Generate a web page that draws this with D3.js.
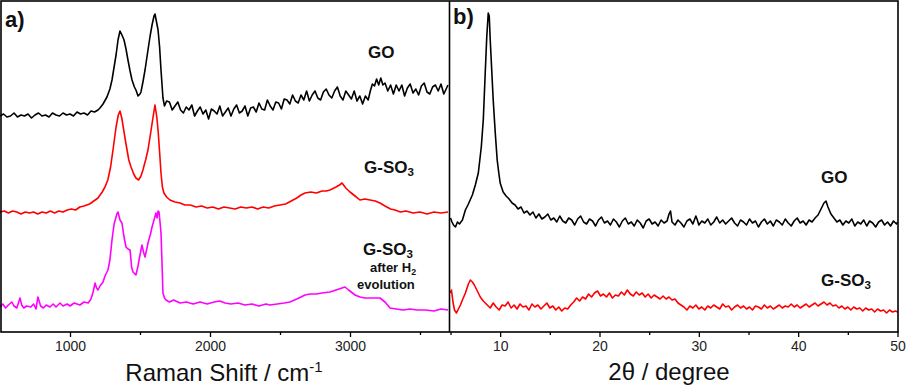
<!DOCTYPE html>
<html>
<head>
<meta charset="utf-8">
<script src="https://cdn.jsdelivr.net/npm/d3@7"></script>
<style>
  body { margin: 0; background: #fff; }
  text { font-family: "Liberation Sans", Arial, sans-serif; }
</style>
</head>
<body>
<div id="chart"></div>
<script>
// Raman spectra (panel a) : [shift cm-1, intensity a.u.]
let ramanGO = [[500,216],[525,218],[550,215],[575,216],[600,219],[625,215],[650,217],[675,216],[700,218],[725,214],[750,217],[775,219],[800,216],[825,217],[850,215],[875,219],[900,217],[925,216],[950,219],[975,217],[1000,218],[1025,216],[1050,220],[1075,218],[1100,219],[1125,217],[1150,221],[1175,220],[1200,222],[1214,224],[1236,228],[1264,235],[1285,243],[1300,252],[1315,265],[1329,277],[1343,292],[1357,301],[1371,297],[1386,292],[1400,283],[1414,272],[1429,261],[1443,252],[1460,245],[1471,242],[1486,236],[1500,238],[1507,240],[1521,250],[1536,262],[1557,282],[1571,295],[1586,307],[1600,316],[1607,318],[1618,310],[1629,302],[1640,285],[1650,262],[1664,234],[1675,226],[1690,231],[1710,230],[1730,222],[1750,226],[1770,230],[1790,222],[1810,219],[1830,225],[1850,222],[1870,227],[1890,216],[1910,221],[1930,225],[1950,218],[1970,222],[1990,213],[2010,223],[2030,221],[2050,218],[2070,226],[2090,216],[2110,220],[2130,224],[2150,216],[2170,223],[2190,227],[2210,219],[2230,221],[2250,226],[2270,216],[2290,224],[2310,225],[2330,220],[2350,229],[2370,223],[2390,222],[2410,232],[2430,226],[2450,222],[2470,230],[2490,229],[2510,223],[2530,233],[2550,232],[2570,228],[2590,237],[2610,231],[2630,229],[2650,237],[2670,232],[2690,241],[2710,231],[2730,237],[2750,241],[2770,234],[2790,232],[2810,240],[2830,243],[2850,237],[2870,234],[2890,241],[2910,245],[2930,236],[2950,232],[2970,241],[2990,237],[3010,233],[3030,241],[3050,231],[3070,236],[3090,228],[3110,236],[3130,232],[3145,241],[3160,248],[3175,246],[3190,253],[3205,247],[3220,254],[3235,247],[3250,249],[3270,241],[3290,247],[3310,238],[3330,247],[3350,241],[3370,247],[3390,236],[3410,244],[3430,248],[3450,239],[3470,243],[3490,237],[3510,246],[3530,249],[3550,240],[3570,238],[3590,245],[3610,247],[3630,241],[3650,248],[3670,238],[3690,244],[3700,247]];

let ramanGSO3 = [[500,120],[530,121],[560,119],[590,121],[620,120],[650,118],[680,120],[710,119],[740,120],[770,118],[800,120],[830,119],[860,121],[890,119],[920,121],[950,120],[980,122],[1010,123],[1040,122],[1070,125],[1100,126],[1140,128],[1170,131],[1200,134],[1230,140],[1250,145],[1270,152],[1290,165],[1310,185],[1329,205],[1345,217],[1357,221],[1370,214],[1386,200],[1400,188],[1420,172],[1436,165],[1455,158],[1471,154],[1490,152],[1507,156],[1521,162],[1540,172],[1557,182],[1575,198],[1590,212],[1607,227],[1620,215],[1630,200],[1640,180],[1650,159],[1660,145],[1671,139],[1690,135],[1714,132],[1750,130],[1786,129],[1820,127],[1860,127],[1900,125],[1940,126],[1980,124],[2020,125],[2060,123],[2100,125],[2140,124],[2180,123],[2220,125],[2260,124],[2300,125],[2340,123],[2380,125],[2420,124],[2460,126],[2500,127],[2540,128],[2580,131],[2620,134],[2650,137],[2679,139],[2720,140],[2760,139],[2800,141],[2830,141],[2857,142],[2900,145],[2925,147],[2943,149],[2970,144],[3000,140],[3036,136],[3071,132],[3107,133],[3143,132],[3180,131],[3214,129],[3250,126],[3290,123],[3321,122],[3360,120],[3400,121],[3450,119],[3500,120],[3550,118],[3600,120],[3650,119],[3700,120]];

let ramanAfterH2 = [[500,25],[520,28],[540,24],[560,27],[585,30],[600,26],[620,24],[643,34],[655,27],[670,24],[690,26],[720,25],[740,28],[757,23],[771,35],[790,26],[810,24],[830,27],[857,25],[880,28],[900,25],[929,29],[950,26],[980,28],[1000,26],[1030,29],[1071,27],[1100,30],[1130,29],[1150,33],[1165,40],[1179,49],[1190,44],[1200,42],[1214,46],[1236,50],[1250,56],[1271,62],[1285,72],[1300,92],[1315,108],[1335,118],[1343,120],[1357,112],[1371,109],[1386,95],[1400,85],[1414,83],[1429,82],[1440,65],[1450,60],[1471,57],[1486,66],[1493,72],[1507,82],[1514,87],[1525,80],[1536,75],[1550,84],[1557,89],[1575,98],[1586,105],[1600,112],[1614,119],[1622,114],[1629,121],[1636,120],[1643,110],[1650,99],[1657,70],[1664,39],[1675,34],[1686,32],[1710,30],[1740,32],[1786,29],[1830,30],[1880,28],[1929,30],[1980,28],[2030,30],[2070,31],[2107,29],[2150,28],[2200,29],[2250,27],[2300,28],[2350,26],[2400,28],[2429,27],[2480,28],[2530,29],[2571,30],[2620,33],[2679,37],[2714,38],[2760,38],[2800,39],[2857,40],[2900,42],[2943,44],[2964,45],[2990,42],[3036,37],[3071,35],[3107,34],[3150,34],[3214,34],[3250,30],[3286,24],[3330,23],[3380,22],[3429,23],[3480,22],[3540,22],[3600,21],[3650,23],[3700,22]];

// XRD patterns (panel b) : [2theta, intensity a.u.]
let xrdGO = [[5.0,114],[5.15,110],[5.3,107],[5.5,105],[5.7,110],[5.9,108],[6.2,112],[6.5,122],[6.8,128],[7.2,137],[7.5,147],[7.8,159],[8.1,185],[8.3,212],[8.5,260],[8.65,295],[8.8,319],[8.9,316],[9.0,292],[9.15,262],[9.3,232],[9.5,200],[9.7,172],[9.85,160],[10.0,149],[10.3,140],[10.6,136],[10.9,133],[11.2,129],[11.5,127],[11.8,123],[12.1,125],[12.4,119],[12.7,121],[13.0,117],[13.3,120],[13.6,114],[13.9,118],[14.2,113],[14.5,115],[14.8,118],[15.1,112],[15.4,114],[15.7,110],[16.0,116],[16.3,111],[16.6,109],[16.9,114],[17.2,112],[17.5,107],[17.8,113],[18.1,116],[18.4,110],[18.7,108],[19.0,113],[19.3,111],[19.6,106],[19.9,112],[20.2,115],[20.5,109],[20.8,111],[21.1,107],[21.4,113],[21.7,110],[22.0,105],[22.3,111],[22.6,114],[22.9,108],[23.2,110],[23.5,106],[23.8,112],[24.1,109],[24.4,104],[24.7,111],[25.0,113],[25.3,108],[25.6,110],[25.9,106],[26.2,112],[26.5,109],[26.8,111],[27.0,118],[27.15,121],[27.3,110],[27.6,107],[27.9,112],[28.2,109],[28.5,105],[28.8,111],[29.1,113],[29.4,108],[29.7,116],[29.85,112],[30.0,107],[30.3,111],[30.6,109],[30.9,113],[31.2,107],[31.5,110],[31.8,115],[32.1,109],[32.4,112],[32.7,108],[33.0,111],[33.3,114],[33.6,109],[33.9,106],[34.2,112],[34.5,110],[34.8,107],[35.1,113],[35.4,109],[35.7,111],[36.0,105],[36.3,110],[36.6,113],[36.9,108],[37.2,111],[37.5,106],[37.8,112],[38.1,110],[38.4,107],[38.7,113],[39.0,109],[39.3,106],[39.6,111],[39.9,114],[40.2,109],[40.5,111],[40.8,107],[41.1,112],[41.4,110],[41.7,114],[42.0,117],[42.3,123],[42.6,129],[42.8,131],[43.0,125],[43.3,118],[43.6,114],[43.9,110],[44.2,112],[44.5,107],[44.8,111],[45.1,109],[45.4,113],[45.7,106],[46.0,110],[46.3,108],[46.6,112],[46.9,106],[47.2,111],[47.5,109],[47.8,105],[48.1,110],[48.4,112],[48.7,107],[49.0,110],[49.3,106],[49.6,111],[49.9,108],[50.0,110]];

let xrdGSO3 = [[5.0,39],[5.1,42],[5.25,30],[5.4,22],[5.6,19],[5.8,23],[6.0,27],[6.2,32],[6.5,39],[6.8,48],[7.0,52],[7.2,50],[7.4,47],[7.7,41],[8.0,35],[8.3,31],[8.7,27],[9.0,24],[9.3,29],[9.6,25],[9.9,22],[10.2,27],[10.5,26],[10.8,30],[11.1,24],[11.4,27],[11.7,23],[12.0,28],[12.3,25],[12.6,26],[12.9,22],[13.2,28],[13.5,25],[13.8,27],[14.1,23],[14.4,26],[14.7,29],[15.0,24],[15.3,26],[15.6,22],[15.9,25],[16.2,21],[16.5,24],[16.8,23],[17.1,27],[17.4,30],[17.7,34],[18.0,31],[18.3,35],[18.6,33],[18.9,38],[19.2,35],[19.5,39],[19.8,41],[20.1,36],[20.4,38],[20.7,35],[21.0,39],[21.3,34],[21.6,37],[21.9,36],[22.2,40],[22.5,37],[22.8,42],[23.1,38],[23.4,36],[23.7,40],[24.0,37],[24.3,39],[24.6,35],[24.9,38],[25.2,34],[25.5,37],[25.8,35],[26.1,33],[26.4,36],[26.7,33],[27.0,35],[27.3,32],[27.6,33],[27.9,29],[28.2,27],[28.5,25],[28.8,22],[29.1,26],[29.4,24],[29.7,27],[30.0,23],[30.3,25],[30.6,22],[30.9,26],[31.2,24],[31.5,27],[31.8,25],[32.1,23],[32.4,28],[32.7,25],[33.0,26],[33.3,22],[33.6,25],[33.9,27],[34.2,24],[34.5,26],[34.8,23],[35.1,25],[35.4,22],[35.7,26],[36.0,25],[36.3,23],[36.6,27],[36.9,24],[37.2,26],[37.5,23],[37.8,25],[38.1,27],[38.4,24],[38.7,26],[39.0,25],[39.3,28],[39.6,25],[39.9,27],[40.2,24],[40.5,26],[40.8,28],[41.1,25],[41.4,27],[41.7,29],[42.0,26],[42.3,28],[42.6,30],[42.9,27],[43.2,29],[43.5,26],[43.8,27],[44.1,24],[44.4,26],[44.7,23],[45.0,25],[45.3,22],[45.6,25],[45.9,23],[46.2,24],[46.5,21],[46.8,24],[47.1,22],[47.4,23],[47.7,20],[48.0,23],[48.3,21],[48.6,22],[48.9,19],[49.2,22],[49.5,20],[49.8,21],[50.0,20]];

let ramanMajor = [1000, 2000, 3000];
let ramanMinor = [1500, 2500, 3500];
let xrdMajor = [10, 20, 30, 40, 50];
let xrdMinor = [5, 15, 25, 35, 45];

let svgWidth = 908;
let svgHeight = 388;
let plotTop = 1, plotBottom = 332;

//scales
let xA = d3.scaleLinear().domain([500, 3700]).range([0, 448]);
let xB = d3.scaleLinear().domain([5, 50]).range([450.5, 897.5]);
let yScale = d3.scaleLinear().domain([0, 331]).range([plotBottom, plotTop]);

let svg = d3.select("#chart")
  .append("svg")
  .attr("width", svgWidth)
  .attr("height", svgHeight);

//curves
function drawCurve(data, xs, color) {
  let line = d3.line().x(d => xs(d[0])).y(d => yScale(d[1]));
  svg.append("path")
    .datum(data)
    .attr("d", line)
    .attr("fill", "none")
    .attr("stroke", color)
    .attr("stroke-width", 1.6)
    .attr("stroke-linejoin", "round");
}

drawCurve(ramanGO, xA, "#000");
drawCurve(ramanGSO3, xA, "#ff0000");
drawCurve(ramanAfterH2, xA, "#ff00ff");
drawCurve(xrdGO, xB, "#000");
drawCurve(xrdGSO3, xB, "#ff0000");

//axes: major and minor ticks, outward
function drawAxis(xs, major, minor) {
  let g = svg.append("g").attr("transform", `translate(0,${plotBottom})`);
  g.call(d3.axisBottom(xs).tickValues(major).tickFormat(d3.format("d"))
    .tickSize(5).tickSizeOuter(0).tickPadding(4));
  g.select(".domain").remove();
  g.selectAll("text")
    .attr("font-size", 14)
    .attr("fill", "#222")
    .style("font-family", "Liberation Sans, Arial, sans-serif");
  g.selectAll("line").attr("stroke", "#000").attr("stroke-width", 1.3);
  svg.append("g").attr("transform", `translate(0,${plotBottom})`)
    .call(d3.axisBottom(xs).tickValues(minor).tickSize(3).tickFormat(""))
    .call(a => a.select(".domain").remove())
    .selectAll("line").attr("stroke", "#000").attr("stroke-width", 1.3);
}

drawAxis(xA, ramanMajor, ramanMinor);
drawAxis(xB, xrdMajor, xrdMinor);

//frame
svg.append("rect")
  .attr("x", 1).attr("y", plotTop)
  .attr("width", 897).attr("height", plotBottom - plotTop)
  .attr("fill", "none").attr("stroke", "#000").attr("stroke-width", 1.6);
svg.append("line")
  .attr("x1", 449.5).attr("x2", 449.5).attr("y1", plotTop).attr("y2", plotBottom)
  .attr("stroke", "#000").attr("stroke-width", 1.6);

//axis titles
let t1 = svg.append("text").attr("x", 224).attr("y", 381)
  .attr("text-anchor", "middle").attr("font-size", 24).attr("fill", "#111");
t1.append("tspan").text("Raman Shift / cm");
t1.append("tspan").attr("dy", -9).attr("font-size", 15).text("-1");

svg.append("text").attr("x", 669).attr("y", 380)
  .attr("text-anchor", "middle").attr("font-size", 24).attr("fill", "#111")
  .text("2θ / degree");

//panel letters and curve labels
function label(x, y, size, txt, sub) {
  let t = svg.append("text").attr("x", x).attr("y", y)
    .attr("font-size", size).attr("font-weight", "bold").attr("fill", "#111");
  t.append("tspan").text(txt);
  if (sub) t.append("tspan").attr("dy", 3).attr("font-size", size * 0.68).text(sub);
  return t;
}

label(5, 27, 22, "a)");
label(453, 24, 22, "b)");
label(368, 58, 17, "GO");
label(364, 173, 17, "G-SO", "3");
label(363, 255, 17, "G-SO", "3");
label(370, 272, 13, "after H", "2");
label(357, 289, 13, "evolution");
label(821, 183, 17, "GO");
label(821, 286, 17, "G-SO", "3");
</script>
</body>
</html>
